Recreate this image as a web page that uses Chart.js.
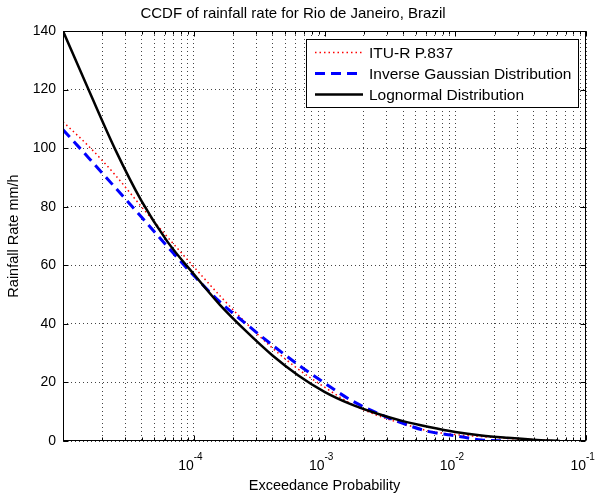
<!DOCTYPE html>
<html>
<head>
<meta charset="utf-8">
<script src="https://cdn.jsdelivr.net/npm/chart.js@4.4.0/dist/chart.umd.min.js"></script>
<style>
  html, body { margin: 0; padding: 0; background: #fff; }
  #wrap { width: 599px; height: 499px; }
</style>
</head>
<body>
<div id="wrap"><canvas id="myChart"></canvas></div>
<script>
"use strict";

// exceedance probabilities (every 0.2 decade) and the rain rates, mm/h
const probs = [1e-5, 1.585e-5, 2.512e-5, 3.981e-5, 6.31e-5, 1e-4, 1.585e-4, 2.512e-4, 3.981e-4, 6.31e-4,
  1e-3, 1.585e-3, 2.512e-3, 3.981e-3, 6.31e-3, 1e-2, 1.585e-2, 2.512e-2, 3.981e-2, 6.31e-2];
const ituRate = [109, 100.5, 90.8, 80, 69.6, 59.5, 49.6, 40.3, 31.8, 24.5,
  18.4, 12.8, 8.8, 5.9, 3.4, 2.2, 1.5, 0.9, 0.45, 0];
const igRate = [106.3, 96.5, 86.5, 76.5, 66.3, 56.5, 47.5, 40, 32.8, 26,
  19.8, 14, 9.6, 6.0, 3.2, 1.8, 0.35, 0, null, null];
const lognRate = [140, 119.5, 99.5, 82, 68, 57, 46.5, 37.5, 29.3, 22.4,
  16.8, 12.6, 9.4, 6.8, 4.8, 3.1, 1.9, 1.1, 0.45, 0];

const seriesLabels = ["ITU-R P.837", "Inverse Gaussian Distribution", "Lognormal Distribution"];
const xLabelPowers = [-4, -3, -2, -1];
const yTicks = [0, 20, 40, 60, 80, 100, 120, 140];

const FONT = "'Liberation Sans', Arial, sans-serif";

function toPoints(rates) {
  return probs.map((p, i) => ({ x: p, y: rates[i] }));
}

function isDecade(v) {
  const l = Math.log10(v);
  return Math.abs(l - Math.round(l)) < 1e-9;
}

// box, inward tick marks, x labels with exponents, legend in the corner
const framePlugin = {
  id: "frame",
  afterDraw(chart) {
    const ctx = chart.ctx;
    const a = chart.chartArea;
    const xs = chart.scales.x;
    const ys = chart.scales.y;
    const L = Math.round(a.left) + 0.5, R = Math.round(a.right) - 0.5;
    const T = Math.round(a.top) + 0.5, B = Math.round(a.bottom) - 0.5;

    ctx.save();
    ctx.setLineDash([]);
    ctx.strokeStyle = "#000";
    ctx.lineWidth = 1;
    ctx.strokeRect(L, T, R - L, B - T);

    ctx.beginPath();
    for (const t of xs.ticks) {
      const px = Math.round(xs.getPixelForValue(t.value)) + 0.5;
      const len = isDecade(t.value) ? 5 : 3;
      ctx.moveTo(px, B); ctx.lineTo(px, B - len);
      ctx.moveTo(px, T); ctx.lineTo(px, T + len);
    }
    for (const t of ys.ticks) {
      const py = Math.round(ys.getPixelForValue(t.value)) + 0.5;
      ctx.moveTo(L, py); ctx.lineTo(L + 5, py);
      ctx.moveTo(R, py); ctx.lineTo(R - 5, py);
    }
    ctx.stroke();

    ctx.fillStyle = "#000";
    for (const e of xLabelPowers) {
      const px = xs.getPixelForValue(Math.pow(10, e));
      ctx.font = "14px " + FONT;
      ctx.textAlign = "right";
      ctx.textBaseline = "alphabetic";
      ctx.fillText("10", px, B + 29);
      ctx.font = "10px " + FONT;
      ctx.textAlign = "left";
      ctx.fillText(String(e), px, B + 19);
    }

    // legend
    const box = { left: 306.5, top: 39.5, right: 578.5, bottom: 107.5 };
    ctx.fillStyle = "#fff";
    ctx.fillRect(box.left, box.top, box.right - box.left, box.bottom - box.top);
    ctx.strokeStyle = "#000";
    ctx.lineWidth = 1;
    ctx.strokeRect(box.left, box.top, box.right - box.left, box.bottom - box.top);
    const rows = [52.5, 73.5, 94.5];
    chart.data.datasets.forEach((ds, i) => {
      ctx.beginPath();
      ctx.strokeStyle = ds.borderColor;
      ctx.lineWidth = ds.borderWidth;
      ctx.setLineDash(ds.borderDash || []);
      ctx.moveTo(315, rows[i]);
      ctx.lineTo(363, rows[i]);
      ctx.stroke();
      ctx.setLineDash([]);
      ctx.fillStyle = "#000";
      ctx.font = "15.5px " + FONT;
      ctx.textAlign = "left";
      ctx.textBaseline = "middle";
      ctx.fillText(ds.label, 369, rows[i] + 1);
    });
    ctx.restore();
  }
};

const ctx = document.getElementById("myChart").getContext("2d");

const config = {
  type: "line",
  data: {
    datasets: [
      {
        label: seriesLabels[0],
        data: toPoints(ituRate),
        borderColor: "#ff0000",
        borderWidth: 1.5,
        borderDash: [1.5, 3],
        order: 3
      },
      {
        label: seriesLabels[1],
        data: toPoints(igRate),
        borderColor: "#0000ff",
        borderWidth: 3,
        borderDash: [10, 6],
        order: 2
      },
      {
        label: seriesLabels[2],
        data: toPoints(lognRate),
        borderColor: "#000000",
        borderWidth: 2.5,
        order: 1
      }
    ]
  },
  options: {
    responsive: true,
    maintainAspectRatio: false,
    animation: false,
    spanGaps: false,
    layout: { padding: { left: 0, right: 13, top: 0, bottom: 0 } },
    elements: {
      point: { radius: 0 },
      line: { cubicInterpolationMode: "monotone", fill: false }
    },
    scales: {
      x: {
        type: "logarithmic",
        min: 1e-5,
        max: 1e-1,
        afterBuildTicks: (scale) => {
          const ticks = [];
          for (let e = -5; e <= -2; e++) {
            for (let m = 1; m <= 9; m++) ticks.push({ value: m * Math.pow(10, e) });
          }
          ticks.push({ value: 1e-1 });
          scale.ticks = ticks;
        },
        afterFit: (scale) => { scale.height = 58; },
        ticks: { display: false },
        grid: { color: "#444", lineWidth: 1, drawTicks: false },
        border: { display: false, dash: [1, 3] },
        title: {
          display: true,
          text: "Exceedance Probability",
          color: "#000",
          font: { family: FONT, size: 14.5 },
          padding: { top: 0, bottom: 4 }
        }
      },
      y: {
        type: "linear",
        min: 0,
        max: 140,
        afterBuildTicks: (scale) => {
          scale.ticks = yTicks.map((v) => ({ value: v }));
        },
        afterFit: (scale) => { scale.width = 63; },
        ticks: {
          color: "#000",
          padding: 7,
          font: { family: FONT, size: 14 }
        },
        grid: { color: "#444", lineWidth: 1, drawTicks: false },
        border: { display: false, dash: [1, 3] },
        title: {
          display: true,
          text: "Rainfall Rate mm/h",
          color: "#000",
          font: { family: FONT, size: 14.5 },
          padding: { top: 5, bottom: 0 }
        }
      }
    },
    plugins: {
      legend: { display: false },
      tooltip: { enabled: false },
      title: {
        display: true,
        text: "CCDF of rainfall rate for Rio de Janeiro, Brazil",
        color: "#000",
        font: { family: FONT, size: 15, weight: "normal" },
        padding: { top: 5, bottom: 8 }
      }
    }
  },
  plugins: [framePlugin]
};

new Chart(ctx, config);
</script>
</body>
</html>
